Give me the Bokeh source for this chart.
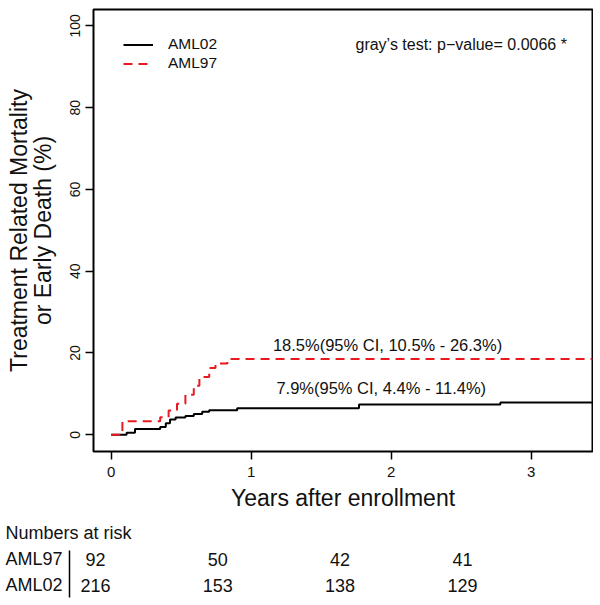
from bokeh.plotting import figure
from bokeh.layouts import column
from bokeh.models import Range1d, FixedTicker, Legend, LegendItem
from bokeh.core.properties import value
from bokeh.embed import file_html
from bokeh.resources import INLINE

FONT = "Liberation Sans"
TXT = "#111111"
RED = "#e8191f"

# ---------------- data ----------------
aml02_time = [0, 0.11, 0.17, 0.35, 0.39, 0.42, 0.46, 0.53, 0.59, 0.65, 0.70, 0.90, 1.77, 2.78, 3.44]
aml02_cif = [0, 0.5, 1.4, 1.9, 2.8, 3.7, 4.2, 4.6, 5.1, 5.6, 6.0, 6.5, 7.4, 7.9, 7.9]

aml97_time = [0, 0.08, 0.35, 0.41, 0.47, 0.53, 0.59, 0.63, 0.70, 0.745, 0.83, 3.44]
aml97_cif = [0, 3.3, 4.3, 5.9, 7.6, 9.8, 12.0, 14.1, 16.3, 17.4, 18.5, 18.5]

x_ticks = [0, 1, 2, 3]
y_ticks = [0, 20, 40, 60, 80, 100]

series_names = ["AML02", "AML97"]
ci_labels = ["7.9%(95% CI, 4.4% - 11.4%)", "18.5%(95% CI, 10.5% - 26.3%)"]
ci_label_x = [1.18, 1.155]
ci_label_y = [11.5, 21.9]
p_label = "gray\u2019s test: p\u2212value= 0.0066 *"
p_label_x = 1.745
p_label_y = 95.4

risk_title = "Numbers at risk"
risk_times = [0, 1, 2, 3]
risk_groups = ["AML97", "AML02"]
risk_aml97 = [92, 50, 42, 41]
risk_aml02 = [216, 153, 138, 129]

# ---------------- main plot ----------------
p = figure(width=593, height=513,
           x_range=Range1d(-0.1264, 3.438), y_range=Range1d(-4.1, 104),
           output_backend="svg", toolbar_location=None,
           min_border_left=93, min_border_right=1, min_border_top=9, min_border_bottom=62)
p.frame_align = False
p.grid.visible = False
p.outline_line_color = "black"
p.outline_line_width = 2
p.background_fill_color = "white"
p.border_fill_color = "white"

r02 = p.step(aml02_time, aml02_cif, mode="after", line_color="black", line_width=2)
r97 = p.step(aml97_time, aml97_cif, mode="after", line_color=RED, line_width=2, line_dash="9 6")

for ax, ticks in ((p.xaxis, x_ticks), (p.yaxis, y_ticks)):
    ax.ticker = FixedTicker(ticks=ticks)
    ax.axis_line_color = None
    ax.major_tick_out = 8
    ax.major_tick_in = 0
    ax.major_tick_line_width = 1.5
    ax.major_tick_line_color = "black"
    ax.minor_tick_line_color = None
    ax.major_label_text_font = FONT
    ax.major_label_text_color = TXT
    ax.axis_label_text_font = FONT
    ax.axis_label_text_font_style = "normal"
    ax.axis_label_text_color = TXT
    ax.axis_label_text_font_size = "23px"

p.xaxis.major_label_text_font_size = "15px"
p.xaxis.major_label_standoff = 7
p.xaxis.axis_label = "Years after enrollment"
p.xaxis.axis_label_standoff = 5

p.yaxis.major_label_text_font_size = "14px"
p.yaxis.major_label_orientation = "parallel"
p.yaxis.major_label_standoff = 5
p.yaxis.axis_label = "Treatment Related Mortality\nor Early Death (%)"
p.yaxis.axis_label_standoff = 12
p.yaxis.axis_label_text_line_height = 0.9

legend = Legend(items=[LegendItem(label=series_names[0], renderers=[r02]),
                       LegendItem(label=series_names[1], renderers=[r97])],
                location=(30, 378.5), border_line_color=None, background_fill_alpha=0,
                padding=0, spacing=0, margin=0, glyph_width=30, glyph_height=19,
                label_height=19, label_standoff=15,
                label_text_font=FONT, label_text_font_size="15.5px", label_text_color=TXT)
p.add_layout(legend)

p.text(x=ci_label_x, y=ci_label_y, text=ci_labels, text_align="left", text_baseline="middle",
       text_font=value(FONT), text_font_size="16.5px", text_color=TXT)
p.text(x=[p_label_x], y=[p_label_y], text=[p_label], text_align="left", text_baseline="middle",
       text_font=value(FONT), text_font_size="16px", text_color=TXT)

# ---------------- numbers at risk table ----------------
t = figure(width=593, height=90,
           x_range=Range1d(-0.7768, 4.0720), y_range=Range1d(2.6923, -0.769),
           output_backend="svg", toolbar_location=None,
           x_axis_location=None, y_axis_location=None, min_border=0,
           min_border_left=0, min_border_right=0, min_border_top=0, min_border_bottom=0)
t.frame_align = False
t.grid.visible = False
t.outline_line_color = None
t.background_fill_color = "white"
t.border_fill_color = "white"

label_x = -0.736
t.text(x=[label_x] * 3, y=[0, 1, 2], text=[risk_title] + risk_groups,
       text_align="left", text_baseline="middle",
       text_font=value(FONT), text_font_size="18px", text_color=TXT)
t.text(x=risk_times, y=[1] * len(risk_times), text=[str(v) for v in risk_aml97],
       text_align="center", text_baseline="middle",
       text_font=value(FONT), text_font_size="18px", text_color=TXT)
t.text(x=risk_times, y=[2] * len(risk_times), text=[str(v) for v in risk_aml02],
       text_align="center", text_baseline="middle",
       text_font=value(FONT), text_font_size="18px", text_color=TXT)
sep_x = -0.2126
t.segment(x0=[sep_x], y0=[0.654], x1=[sep_x], y1=[2.4615], line_color="black", line_width=1.5)

layout = column(p, t, spacing=0)
open("out.html", "w").write(file_html(layout, INLINE))
